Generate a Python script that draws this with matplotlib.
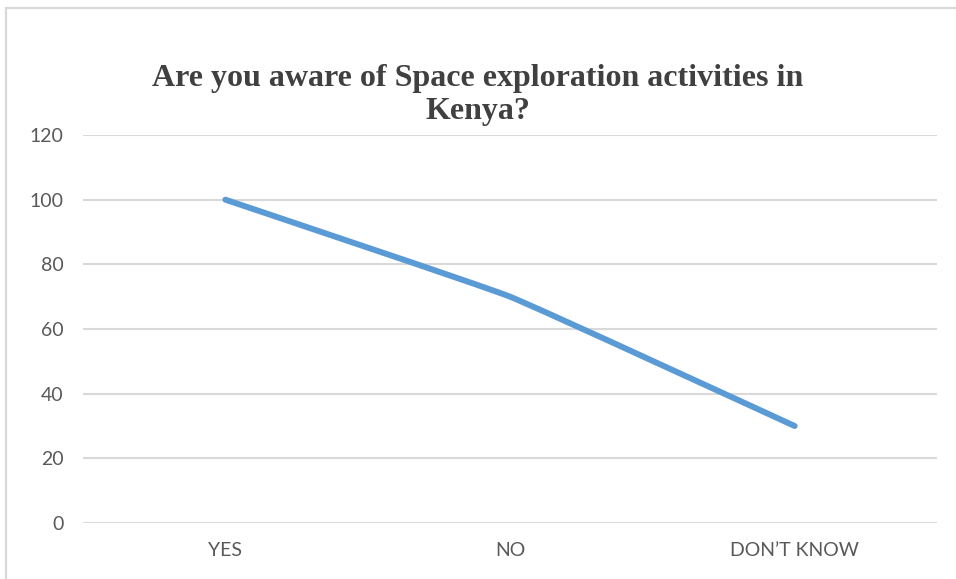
import matplotlib
matplotlib.use("Agg")
import matplotlib.pyplot as plt
from matplotlib.path import Path
from matplotlib.patches import PathPatch, Rectangle
import numpy as np

categories = ["YES", "NO", "DON\u2019T KNOW"]
values = [100, 70, 30]
yticks = [0, 20, 40, 60, 80, 100, 120]
title = "Are you aware of Space exploration activities in\nKenya?"

fig = plt.figure(figsize=(9.56, 5.79), dpi=100)
ax = fig.add_axes([83/956, 1-523/579, (937-83)/956, (523-135)/579])

# chart border
fig.patches.append(Rectangle((6/956, -0.05), 1.0, 1-8/579+0.05, transform=fig.transFigure,
                             fill=False, edgecolor="#d9d9d9", linewidth=1.6))

x = np.arange(len(categories))
y = np.array(values, dtype=float)
# lightly smoothed line
verts = [(x[0], y[0])]
codes = [Path.MOVETO]
t = 0.05
for i in range(len(x)-1):
    p0 = (x[i-1], y[i-1]) if i > 0 else (x[i], y[i])
    p1 = (x[i], y[i])
    p2 = (x[i+1], y[i+1])
    p3 = (x[i+2], y[i+2]) if i+2 < len(x) else (x[i+1], y[i+1])
    c1 = (p1[0] + (p2[0]-p0[0])*t, p1[1] + (p2[1]-p0[1])*t)
    c2 = (p2[0] - (p3[0]-p1[0])*t, p2[1] - (p3[1]-p1[1])*t)
    verts += [c1, c2, p2]
    codes += [Path.CURVE4]*3
ax.add_patch(PathPatch(Path(verts, codes), fill=False, edgecolor="#5b9bd5",
                       linewidth=4.3, capstyle="round", joinstyle="round", zorder=3))

ax.set_xlim(-0.5, len(categories)-0.5)
ax.set_ylim(0, 120)
ax.set_yticks(yticks)
ax.set_xticks(x)
ax.set_xticklabels(categories)
ax.grid(axis="y", color="#d9d9d9", linewidth=1.5)
ax.set_axisbelow(True)
for s in ax.spines.values():
    s.set_visible(False)
ax.tick_params(axis="both", length=0, colors="#595959", labelsize=14)
ax.tick_params(axis="y", pad=14)
ax.tick_params(axis="x", pad=14)
for lab in ax.get_xticklabels() + ax.get_yticklabels():
    lab.set_fontfamily("Lato")
    lab.set_color("#595959")

fig.text(0.5, 1-95/579, title, ha="center", va="center", fontsize=23,
         fontweight="bold", family="Liberation Serif", color="#404040", linespacing=1.22)

fig.savefig("out.png", dpi=100)
